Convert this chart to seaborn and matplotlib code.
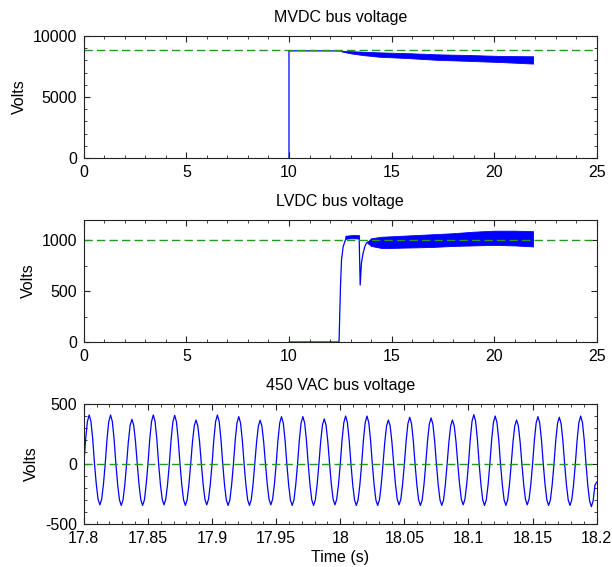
import numpy as np
import pandas as pd
import matplotlib
matplotlib.use("Agg")
import matplotlib.pyplot as plt
import seaborn as sns
from matplotlib.ticker import MultipleLocator, FuncFormatter

# --- DATA ---
# MVDC bus: clean part of the trace, then the ripple band (upper / lower edge)
mvdc_time = [10.0, 10.0, 10.5, 11.0, 11.5, 12.0, 12.55]
mvdc_volts = [0, 8780, 8790, 8780, 8785, 8780, 8770]
mvdc_band_time = [12.55, 13.0, 13.6, 14.4, 15.2, 16.0, 17.2, 18.8, 20.4, 21.9]
mvdc_band_hi = [8770, 8760, 8710, 8660, 8620, 8580, 8500, 8440, 8360, 8340]
mvdc_band_lo = [8740, 8580, 8440, 8300, 8240, 8170, 8050, 7960, 7860, 7740]
mvdc_ref = 8850

# LVDC bus: start-up, plateau, dip, then the ripple band
lvdc_time = [10.0, 12.44, 12.51, 12.56, 12.64, 12.72, 12.80, 13.0, 13.2, 13.42,
             13.47, 13.53, 13.61, 13.70, 13.78, 13.85]
lvdc_volts = [0, 0, 544, 806, 937, 986, 1030, 1035, 1035, 1030,
              560, 774, 872, 940, 975, 985]
lvdc_plateau_time = [12.75, 13.0, 13.2, 13.42]
lvdc_plateau_hi = [1045, 1050, 1052, 1050]
lvdc_plateau_lo = [1015, 1020, 1020, 1018]
lvdc_band_time = [13.82, 14.0, 14.5, 15.0, 15.5, 16.0, 17.0, 18.0, 19.0, 20.0, 21.0, 21.9]
lvdc_band_hi = [985, 1020, 1035, 1040, 1045, 1050, 1060, 1070, 1085, 1095, 1095, 1090]
lvdc_band_lo = [975, 945, 925, 925, 928, 930, 935, 945, 950, 955, 950, 940]
lvdc_ref = 1000

# 450 VAC bus: 60 Hz phase voltage, 12 samples per cycle (one row per cycle)
vac_t0 = 17.8
vac_dt = 1.0 / 720
vac_volts = [
    0, 205, 354, 409, 354, 205, 0, -170, -294, -340, -294, -170,
    0, 205, 354, 409, 354, 205, 0, -173, -299, -345, -299, -173,
    0, 187, 323, 373, 323, 187, 0, -173, -299, -345, -299, -173,
    0, 205, 354, 409, 354, 205, 0, -170, -294, -340, -294, -170,
    0, 203, 352, 406, 352, 203, 0, -173, -299, -345, -299, -173,
    0, 184, 318, 367, 318, 184, 0, -170, -294, -340, -294, -170,
    0, 205, 354, 409, 354, 205, 0, -173, -299, -345, -299, -173,
    0, 198, 342, 395, 342, 198, 0, -173, -299, -345, -299, -173,
    0, 183, 316, 365, 316, 183, 0, -170, -294, -340, -294, -170,
    0, 198, 342, 395, 342, 198, 0, -173, -299, -345, -299, -173,
    0, 198, 342, 395, 342, 198, 0, -173, -299, -345, -299, -173,
    0, 188, 326, 376, 326, 188, 0, -170, -294, -340, -294, -170,
    0, 200, 346, 400, 346, 200, 0, -173, -299, -345, -299, -173,
    0, 200, 346, 400, 346, 200, 0, -173, -299, -345, -299, -173,
    0, 184, 318, 367, 318, 184, 0, -170, -294, -340, -294, -170,
    0, 195, 338, 390, 338, 195, 0, -173, -299, -345, -299, -173,
    0, 192, 333, 384, 333, 192, 0, -173, -299, -345, -299, -173,
    0, 184, 318, 367, 318, 184, 0, -170, -294, -340, -294, -170,
    0, 206, 357, 412, 357, 206, 0, -173, -299, -345, -299, -173,
    0, 200, 346, 400, 346, 200, 0, -173, -299, -345, -299, -173,
    0, 184, 318, 367, 318, 184, 0, -170, -294, -340, -294, -170,
    0, 198, 342, 395, 342, 198, 0, -173, -299, -345, -299, -173,
    0, 195, 338, 390, 338, 195, 0, -173, -299, -345, -299, -173,
    0, 200, 346, 400, 346, 200, 0, -178, -307, -355, -307, -178,
    -150,
]
vac_ref = 0

BLUE = "#0000ff"
GREEN = "#1f9a1f"
FS = 11.5
OUTPUT_IMAGE = "out.png"


def style_axes(ax, xmajor, xminor, ymajor, yminor):
    ax.xaxis.set_major_locator(MultipleLocator(xmajor))
    ax.xaxis.set_minor_locator(MultipleLocator(xminor))
    ax.yaxis.set_major_locator(MultipleLocator(ymajor))
    ax.yaxis.set_minor_locator(MultipleLocator(yminor))
    ax.tick_params(which="both", direction="in", top=True, right=True,
                   labelsize=FS, colors="#222222", labelcolor="black")
    ax.tick_params(which="major", length=4, pad=5)
    ax.tick_params(which="minor", length=2.5)
    ax.xaxis.set_major_formatter(FuncFormatter(lambda v, p: "%g" % round(v, 4)))
    ax.yaxis.set_major_formatter(FuncFormatter(lambda v, p: "%g" % round(v, 4)))
    for s in ax.spines.values():
        s.set_color("#222222")
        s.set_linewidth(0.8)
    ax.set_ylabel("Volts", fontsize=FS, labelpad=4)
    ax.set_xlabel("")


def main():
    sns.set_style("ticks")
    plt.rcParams["font.family"] = ["Liberation Sans", "DejaVu Sans"]
    plt.rcParams["axes.unicode_minus"] = False
    plt.rcParams["text.color"] = "black"
    plt.rcParams["axes.labelcolor"] = "black"

    fig = plt.figure(figsize=(6.12, 5.67), dpi=100)
    left, width = 0.137, 0.838
    ax1 = fig.add_axes([left, 0.7213, width, 0.2152])
    ax2 = fig.add_axes([left, 0.3968, width, 0.2152])
    ax3 = fig.add_axes([left, 0.0758, width, 0.2116])

    # --- MVDC ---
    mvdc = pd.DataFrame({"t": mvdc_time, "v": mvdc_volts})
    sns.lineplot(data=mvdc, x="t", y="v", ax=ax1, color=BLUE, lw=0.9,
                 estimator=None, sort=False)
    ax1.fill_between(mvdc_band_time, mvdc_band_lo, mvdc_band_hi,
                     color=BLUE, lw=0.6)
    ax1.axhline(mvdc_ref, color=GREEN, lw=1, dashes=(6, 3))
    ax1.set_xlim(0, 25)
    ax1.set_ylim(0, 10000)
    style_axes(ax1, 5, 1, 5000, 1000)
    ax1.set_title("MVDC bus voltage", fontsize=FS, pad=10, color="black")

    # --- LVDC ---
    lvdc = pd.DataFrame({"t": lvdc_time, "v": lvdc_volts})
    sns.lineplot(data=lvdc, x="t", y="v", ax=ax2, color=BLUE, lw=0.9,
                 estimator=None, sort=False)
    ax2.fill_between(lvdc_plateau_time, lvdc_plateau_lo, lvdc_plateau_hi,
                     color=BLUE, lw=0.6)
    ax2.fill_between(lvdc_band_time, lvdc_band_lo, lvdc_band_hi,
                     color=BLUE, lw=0.6)
    ax2.axhline(lvdc_ref, color=GREEN, lw=1, dashes=(6, 3))
    ax2.set_xlim(0, 25)
    ax2.set_ylim(0, 1200)
    style_axes(ax2, 5, 1, 500, 250)
    ax2.set_title("LVDC bus voltage", fontsize=FS, pad=10, color="black")

    # --- 450 VAC ---
    vac = pd.DataFrame({"t": vac_t0 + vac_dt * np.arange(len(vac_volts)),
                        "v": vac_volts})
    sns.lineplot(data=vac, x="t", y="v", ax=ax3, color=BLUE, lw=0.9,
                 estimator=None, sort=False)
    ax3.axhline(vac_ref, color=GREEN, lw=1, dashes=(6, 3))
    ax3.set_xlim(17.8, 18.2)
    ax3.set_ylim(-500, 500)
    style_axes(ax3, 0.05, 0.01, 500, 100)
    ax3.set_title("450 VAC bus voltage", fontsize=FS, pad=10, color="black")
    ax3.set_xlabel("Time (s)", fontsize=FS, labelpad=3)

    fig.savefig(OUTPUT_IMAGE, dpi=100)


if __name__ == "__main__":
    main()
